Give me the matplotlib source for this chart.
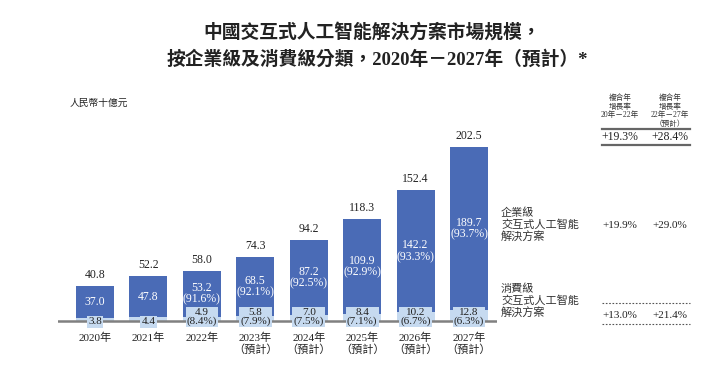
import matplotlib
matplotlib.use("Agg")
import matplotlib.pyplot as plt

plt.rcParams['font.family'] = ['Liberation Serif', 'Noto Sans CJK TC']

# data
years = ['2020年', '2021年', '2022年', '2023年', '2024年', '2025年', '2026年', '2027年']
forecast = [False, False, False, True, True, True, True, True]
totals = [40.8, 52.2, 58.0, 74.3, 94.2, 118.3, 152.4, 202.5]
enterprise = [37.0, 47.8, 53.2, 68.5, 87.2, 109.9, 142.2, 189.7]
consumer = [3.8, 4.4, 4.9, 5.8, 7.0, 8.4, 10.2, 12.8]
ent_share = [None, None, '91.6%', '92.1%', '92.5%', '92.9%', '93.3%', '93.7%']
con_share = [None, None, '8.4%', '7.9%', '7.5%', '7.1%', '6.7%', '6.3%']

cagr_headers = ['複合年\n增長率\n20年－22年', '複合年\n增長率\n22年－27年\n（預計）']
cagr_total = ['+19.3%', '+28.4%']
cagr_enterprise = ['+19.9%', '+29.0%']
cagr_consumer = ['+13.0%', '+21.4%']

DARK = '#4a6bb6'
LIGHT = '#c6daf0'
W, H = 720, 369

def fx(px):
    return px / W

def fy(py):
    return 1 - py / H

fig = plt.figure(figsize=(7.2, 3.69), dpi=100)

# bar axes: full height, baseline at 321px from top
ax = fig.add_axes([fx(58), 0, fx(497) - fx(58), 1])
step = 53.43
scale = 0.859  # px per unit
ax.set_xlim((58 - 95) / step, (497 - 95) / step)
ax.set_ylim(-(H - 321) / scale, 321 / scale)
ax.axis('off')

x = list(range(len(years)))
ax.bar(x, consumer, width=0.71, color=LIGHT, zorder=2)
ax.bar(x, enterprise, bottom=consumer, width=0.71, color=DARK, zorder=2)
ax.axhline(0, color='#808080', lw=1.8, zorder=3)

u = 1 / scale  # one pixel in data units
for i in x:
    ax.text(i, totals[i] + 11 * u, f'{totals[i]:.1f}', ha='center', va='center',
            fontsize=8.5, color='#222222')
    mid = (consumer[i] + totals[i]) / 2
    lab = f'{enterprise[i]:.1f}'
    if ent_share[i]:
        lab += f'\n({ent_share[i]})'
    ax.text(i, mid, lab, ha='center', va='center', fontsize=8.5, color='white',
            linespacing=0.95, zorder=4)
    clab = f'{consumer[i]:.1f}'
    cy = -1 * u
    if con_share[i]:
        clab += f'\n({con_share[i]})'
        cy = 4 * u
    ax.text(i, cy, clab, ha='center', va='center', fontsize=8, color='#222222',
            linespacing=0.9, zorder=5,
            bbox=dict(boxstyle='square,pad=0.1', fc=LIGHT, ec='none'))
    ax.text(i, -17 * u, years[i], ha='center', va='center', fontsize=8, color='#222222')
    if forecast[i]:
        ax.text(i, -29 * u, '（預計）', ha='center', va='center', fontsize=8, color='#222222')

# title
fig.text(fx(372), fy(32), '中國交互式人工智能解決方案市場規模，', ha='center', va='center',
         fontsize=13.5, fontweight='bold', color='#222222')
fig.text(fx(377), fy(60), '按企業級及消費級分類，2020年－2027年（預計）*', ha='center', va='center',
         fontsize=13.5, fontweight='bold', color='#222222')
fig.text(fx(70), fy(103), '人民幣十億元', ha='left', va='center', fontsize=7, color='#222222')

# CAGR table
cols = [620, 670]
for cx, hdr in zip(cols, cagr_headers):
    fig.text(fx(cx), fy(94), hdr, ha='center', va='top', fontsize=5.5,
             linespacing=1.1, color='#333333')
for cx, a, b, c in zip(cols, cagr_total, cagr_enterprise, cagr_consumer):
    fig.text(fx(cx), fy(137), a, ha='center', va='center', fontsize=8.5, color='#222222')
    fig.text(fx(cx), fy(226), b, ha='center', va='center', fontsize=8, color='#222222')
    fig.text(fx(cx), fy(315), c, ha='center', va='center', fontsize=8, color='#222222')

for py in (129, 145):
    fig.add_artist(plt.Line2D([fx(602), fx(690)], [fy(py), fy(py)], color='#666666', lw=1.6))
for py in (303, 324):
    fig.add_artist(plt.Line2D([fx(602), fx(690)], [fy(py), fy(py)], color='#555555', lw=0.8,
                              linestyle=(0, (1.5, 1.5))))

fig.text(fx(501), fy(225), '企業級\n交互式人工智能\n解決方案', ha='left', va='center',
         fontsize=8, linespacing=1.15, color='#333333')
fig.text(fx(501), fy(301), '消費級\n交互式人工智能\n解決方案', ha='left', va='center',
         fontsize=8, linespacing=1.15, color='#333333')

fig.savefig('out.png', dpi=100)
